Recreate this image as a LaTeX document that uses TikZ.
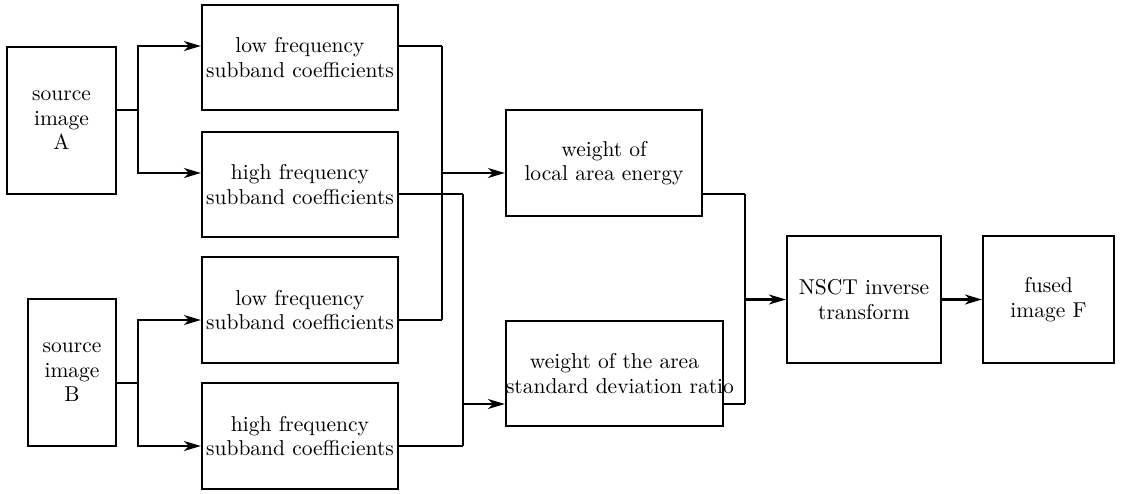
\documentclass[tikz,border=0pt]{standalone}
\usepackage{fontspec}
\setmainfont{lmroman10-regular.otf}
\usetikzlibrary{arrows.meta}
\begin{document}
\begin{tikzpicture}[x=1pt,y=-1pt,
  box/.style={draw,line width=2.2pt,inner sep=0pt,align=center,font=\fontsize{21.5}{24.5}\selectfont},
  conn/.style={line width=2.2pt},
  arr/.style={conn,-{Stealth[length=17pt,width=10pt,inset=5pt]}}]
\useasboundingbox (0,0) rectangle (1121,493);
% nodes
\node[box,minimum width=109pt,minimum height=147pt] (srcA) at (61.5,120.5) {source\\image\\A};
\node[box,minimum width=88pt,minimum height=147pt] (srcB) at (72,372.5) {source\\image\\B};
\node[box,minimum width=196pt,minimum height=105pt] (low1) at (300,57.5) {low frequency\\subband coefficients};
\node[box,minimum width=196pt,minimum height=105pt] (high1) at (300,184.5) {high frequency\\subband coefficients};
\node[box,minimum width=196pt,minimum height=106pt] (low2) at (300,310) {low frequency\\subband coefficients};
\node[box,minimum width=196pt,minimum height=106pt] (high2) at (300,436) {high frequency\\subband coefficients};
\node[box,minimum width=196pt,minimum height=106pt] (w1) at (604,163) {weight of\\local area energy};
\node[box,text width=217pt,minimum height=105pt] (w2) at (614.5,373.5) {weight of the area\\\mbox{standard deviation ratio}};
\node[box,minimum width=154pt,minimum height=127pt] (nsct) at (864,299.5) {NSCT inverse\\transform};
\node[box,minimum width=131pt,minimum height=127pt] (fused) at (1048.5,299.5) {fused\\image F};
% source A branches
\draw[conn] ([yshift=10.5pt]srcA.east) -- ++(21,0) coordinate (ja);
\draw[arr] (ja) |- ([yshift=11.5pt]low1.west);
\draw[arr] (ja) |- ([yshift=11.5pt]high1.west);
% source B branches
\draw[conn] ([yshift=-10.5pt]srcB.east) -- ++(21,0) coordinate (jb);
\draw[arr] (jb) |- ([yshift=-10pt]low2.west);
\draw[arr] (jb) |- ([yshift=-10pt]high2.west);
% low frequency bus
\coordinate (w1in) at ([yshift=-10pt]w1.west);
\draw[conn] ([yshift=11.5pt]low1.east) -- ++(43,0) coordinate (b1t);
\draw[conn] ([yshift=-10pt]low2.east) -- ++(43,0) coordinate (b1b);
\draw[conn] (b1t) -- (b1b);
\draw[arr] (b1t |- w1in) -- (w1in);
% high frequency bus
\coordinate (w2in) at ([yshift=-30.5pt]w2.west);
\draw[conn] ([yshift=-9.5pt]high1.east) -- ++(64,0) coordinate (b2t);
\draw[conn] ([yshift=-10pt]high2.east) -- ++(64,0) coordinate (b2b);
\draw[conn] (b2t) -- (b2b);
\draw[arr] (b2t |- w2in) -- (w2in);
% weights to NSCT
\draw[conn] ([yshift=-31pt]w1.east) -- ++(42,0) coordinate (b3t);
\draw[conn] ([yshift=-30.5pt]w2.east) -- ++(21,0) coordinate (b3b);
\draw[conn] (b3t) -- (b3b);
\draw[arr] (b3t |- nsct.west) -- (nsct.west);
% NSCT to fused
\draw[arr] (nsct.east) -- (fused.west);
\end{tikzpicture}
\end{document}
